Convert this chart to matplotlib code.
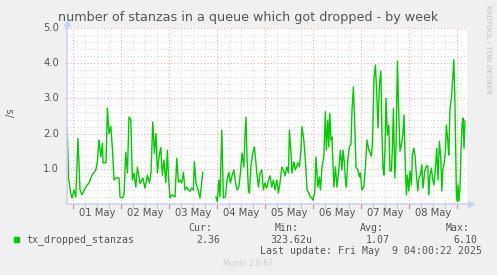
import numpy as np
import matplotlib
matplotlib.use("Agg")
import matplotlib.pyplot as plt
import matplotlib.transforms as mtransforms

# ---- data (hours since 01 May 00:00, value per second) ----
hours = [
    -2.9, -2.2, -1.2, -0.5, 0.5, 1.4, 2.5, 3.5, 4.5, 6.4, 8.0, 9.5, 11.4, 12.2, 13.0, 13.9,
    14.7, 15.0, 16.5, 17.2, 18.0, 18.9, 19.7, 20.5, 21.4, 23.0, 23.5, 24.7, 25.5, 26.4, 27.2,
    28.0, 28.9, 29.7, 30.5, 31.4, 32.2, 33.5, 34.9, 36.0, 37.2, 38.2, 39.0, 39.9, 40.7, 41.5,
    42.2, 43.0, 43.9, 44.7, 45.5, 46.4, 47.2, 47.7, 48.5, 49.4, 50.2, 51.0, 51.9, 52.7, 53.5,
    54.4, 55.2, 56.0, 56.9, 57.7, 58.5, 59.4, 60.2, 60.7, 61.5, 62.7, 63.5, 64.9, 65.5,
    71.5, 72.2, 72.9, 73.5, 74.4, 75.2, 76.2, 77.0, 77.9, 78.7, 79.5, 80.4, 81.2, 82.0, 82.9,
    83.7, 84.5, 85.4, 85.9, 86.5, 87.0, 87.7, 88.2, 88.9, 89.9, 90.7, 91.2, 91.9, 92.7, 93.5,
    94.4, 95.2, 96.0, 96.9, 97.7, 98.5, 99.4, 100.2, 101.0, 101.9, 102.7, 103.5, 104.4, 105.2,
    106.0, 106.9, 107.7, 108.2, 109.0, 109.5, 110.4, 111.2, 112.4, 113.2, 114.0, 114.5, 115.4,
    115.9, 116.5, 117.0, 117.9, 118.7, 119.5, 120.0, 120.9, 121.5, 122.4, 123.2, 123.7, 124.5,
    125.4, 126.2, 126.7, 127.4, 127.9, 128.4, 129.0, 129.5, 130.4, 131.2, 132.0, 132.9, 133.7,
    134.5, 135.0, 135.7, 136.2, 136.7, 137.4, 138.2, 139.0, 139.5, 140.2, 140.9, 141.5, 142.4,
    143.2, 143.7, 144.5, 145.4, 146.2, 147.0, 147.9, 148.7, 149.2, 149.7, 150.5, 151.2, 151.9,
    152.5, 153.2, 153.9, 154.5, 155.0, 155.5, 156.0, 156.5, 157.2, 157.9, 158.5, 159.2, 159.7,
    160.2, 160.9, 161.5, 162.2, 162.9, 163.5, 164.2, 164.9, 165.5, 166.2, 166.7, 167.2, 167.9,
    168.5, 169.2, 169.7, 170.4, 171.0, 171.7, 172.4, 173.0, 173.7, 174.4, 175.0, 175.9, 176.7,
    177.4, 177.9, 178.5, 179.2, 179.9, 180.5, 181.2, 181.9, 182.5, 183.2, 183.9, 184.4, 185.0,
    185.5, 186.2, 186.7, 187.4, 187.9, 188.5, 189.2, 189.9, 190.4, 190.9, 191.4, 191.7, 192.2,
    192.5, 193.0, 193.5, 194.0, 194.5, 195.0, 195.5, 196.0,
]
values = [
    2.16, 0.74, 0.31, 0.17, 0.40, 0.20, 1.87, 0.40, 0.26, 0.48, 0.60, 0.82, 0.97, 1.20, 1.82, 1.34,
    1.73, 1.17, 1.17, 2.72, 2.00, 2.20, 1.58, 0.68, 0.74, 0.74, 0.20, 0.17, 0.26, 1.47, 0.88,
    2.47, 2.40, 0.68, 0.88, 0.48, 1.05, 0.58, 0.74, 0.45, 0.82, 0.60, 0.88, 2.33, 1.45, 2.00,
    0.88, 1.34, 1.60, 0.82, 1.25, 0.60, 1.53, 0.80, 0.17, 0.26, 0.24, 0.20, 1.30, 0.62, 0.68,
    0.60, 0.90, 0.40, 0.48, 0.40, 0.36, 0.45, 0.40, 1.20, 0.60, 0.36, 0.17, 0.90, np.nan,
    0.20, 0.06, 0.68, 0.20, 2.10, 0.17, 0.20, 0.68, 0.90, 0.60, 0.80, 0.97, 0.62, 0.40, 0.48,
    0.88, 1.45, 1.05, 1.82, 2.47, 1.34, 0.40, 0.31, 1.05, 1.45, 1.62, 1.34, 0.88, 0.48, 0.88,
    0.97, 0.40, 0.60, 0.45, 0.68, 0.80, 0.48, 0.68, 0.40, 0.68, 0.31, 0.60, 1.05, 0.97,
    0.80, 1.05, 0.88, 2.10, 1.45, 0.88, 1.20, 0.97, 1.17, 1.05, 1.53, 2.20, 1.82,
    1.47, 0.97, 0.40, 0.31, 0.20, 0.17, 0.11, 0.34, 1.34, 0.48, 0.77, 0.40, 1.05,
    1.34, 2.62, 1.53, 2.38, 1.62, 2.58, 1.82, 1.90, 0.48, 1.05, 0.48, 0.97, 1.53,
    0.97, 1.53, 1.17, 0.68, 0.48, 1.25, 1.62, 1.70, 2.67, 3.33, 2.20, 1.05, 0.97,
    0.77, 0.88, 0.40, 0.48, 1.05, 1.82, 1.53, 1.45, 1.36, 1.68, 3.58, 3.95, 3.10,
    2.16, 3.38, 3.78, 1.96, 1.02, 0.82, 1.58, 3.00, 1.96, 2.24, 0.94, 0.94, 1.58,
    2.72, 0.74, 1.58, 4.06, 2.53, 1.50, 1.68, 1.96, 2.53, 1.02, 0.26, 0.82, 0.37,
    0.94, 0.54, 1.39, 1.58, 1.39, 0.82, 0.37, 0.74, 0.82, 1.11, 0.45, 0.94, 1.08,
    1.08, 0.26, 0.82, 1.02, 0.68, 0.54, 1.02, 1.58, 0.68, 1.78, 1.30, 0.37, 1.02,
    1.11, 1.50, 2.24, 1.78, 1.39, 2.72, 3.00, 3.58, 4.10, 3.10, 1.39, 0.26, 0.08,
    0.54, 0.08, 0.45, 1.50, 2.24, 2.44, 1.58, 2.36,
]
day_labels = ["01 May", "02 May", "03 May", "04 May", "05 May", "06 May", "07 May", "08 May"]
y_labels = ["1.0", "2.0", "3.0", "4.0", "5.0"]
series_name = "tx_dropped_stanzas"
stat_cur, stat_min, stat_avg, stat_max = "2.36", "323.62u", "1.07", "6.10"
last_update = "Last update: Fri May  9 04:00:22 2025"
title = "number of stanzas in a queue which got dropped - by week"

# ---- figure ----
W, H = 497, 275
BG = "#f0f0f0"
fig = plt.figure(figsize=(W / 100, H / 100), dpi=100, facecolor=BG)

def fx(px):
    return px / W

def fy(py):
    return 1 - py / H

L, R, T, B = 67, 467, 28, 204
ax = fig.add_axes([fx(L), fy(B), (R - L) / W, (B - T) / H])
ax.set_facecolor("white")
xmin, xmax = -3.0, 197.0
ax.set_xlim(xmin, xmax)
ax.set_ylim(0, 5)

minor_col = "#d9d9d9"
major_col = "#e8aaaa"
# horizontal grid
for yv in np.arange(0.2, 5.01, 0.2):
    is_major = abs(yv - round(yv)) < 1e-6
    ax.axhline(yv, color=major_col if is_major else minor_col, lw=0.8,
               ls=(0, (1, 2)), zorder=1)
# vertical grid
for hv in np.arange(0, xmax, 6):
    is_major = hv % 24 == 0
    ax.axvline(hv, color=major_col if is_major else minor_col, lw=0.8,
               ls=(0, (1, 2)), zorder=1)

ax.plot(hours, values, color="#00cc00", lw=1.0, zorder=3)

for s in ax.spines.values():
    s.set_visible(False)
axis_col = "#ccd2f5"
ax.plot([xmin, xmin], [0, 5.15], color=axis_col, lw=1.2, clip_on=False, zorder=4)
ax.plot([xmin, xmax + 1.5], [0, 0], color=axis_col, lw=1.2, clip_on=False, zorder=4)
ax.plot([xmin], [5.15], marker="^", color=axis_col, ms=4.5, clip_on=False, zorder=4)
ax.plot([xmax + 2.0], [0], marker=">", color=axis_col, ms=4.5, clip_on=False, zorder=4)

ax.set_xticks([])
ax.set_yticks([])

txt_col = "#555555"
# y labels
for i, lab in enumerate(y_labels):
    ax.text(-0.02, (i + 1) / 5, lab, transform=ax.transAxes, ha="right", va="center",
            fontsize=7.2, color=txt_col, family="DejaVu Sans")
    ax.plot([xmin - 1.2, xmin], [i + 1, i + 1], color=axis_col, lw=0.8, clip_on=False)
# x labels and ticks
trans = mtransforms.blended_transform_factory(ax.transData, ax.transAxes)
for i, lab in enumerate(day_labels):
    ax.text(12 + 24 * i, -0.05, lab, transform=trans, ha="center", va="center",
            fontsize=7.2, color=txt_col, family="DejaVu Sans")
for hv in np.arange(0, xmax, 6):
    c = "#e08888" if hv % 24 == 0 else "#c8c8c8"
    ax.plot([hv, hv], [-0.02, 0], transform=trans, color=c, lw=0.8, clip_on=False)

fig.text(0.5, fy(18), title, ha="center", va="center", fontsize=9.2, color=txt_col,
         family="DejaVu Sans")
fig.text(fx(11), fy(113), "/s", rotation=90, ha="center", va="center", fontsize=7.2,
         color=txt_col, family="DejaVu Sans")
fig.text(fx(488), fy(5), "RRDTOOL / TOBI OETIKER", rotation=-90, ha="center", va="top",
         fontsize=5.0, color="#c0c0c0", family="DejaVu Sans")

mono = "DejaVu Sans Mono"
ms = 7.1
fig.patches.append(plt.Rectangle((fx(14), fy(242)), 5 / W, 5 / H, transform=fig.transFigure,
                                 color="#00cc00", figure=fig))
fig.text(fx(26), fy(240), series_name, ha="left", va="center", fontsize=ms, color=txt_col, family=mono)
for head, val, hx, vx in [("Cur:", stat_cur, 212, 220), ("Min:", stat_min, 299, 312),
                          ("Avg:", stat_avg, 384, 390), ("Max:", stat_max, 470, 477)]:
    fig.text(fx(hx), fy(228), head, ha="right", va="center", fontsize=ms, color=txt_col, family=mono)
    fig.text(fx(vx), fy(240), val, ha="right", va="center", fontsize=ms, color=txt_col, family=mono)
fig.text(fx(482), fy(251), last_update, ha="right", va="center", fontsize=ms, color=txt_col, family=mono)
fig.text(fx(248), fy(263), "Munin 2.0.67", ha="center", va="center", fontsize=5.5,
         color="#cccccc", family="DejaVu Sans")

fig.savefig("out.png", dpi=100, facecolor=BG)
